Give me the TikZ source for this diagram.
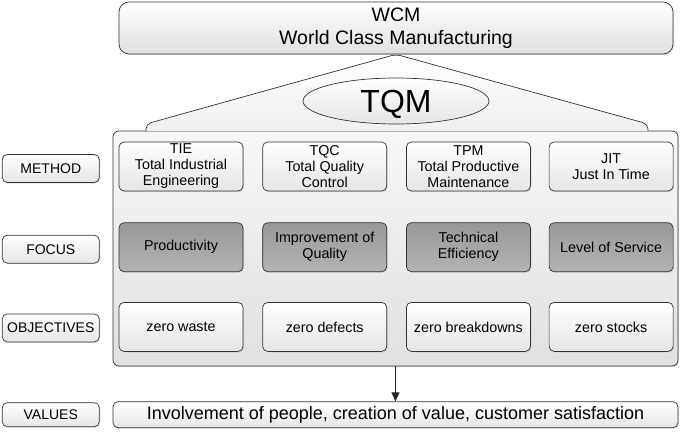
\documentclass[tikz,border=0pt]{standalone}
\usepackage{fontspec}
\setmainfont{Liberation Sans}
\usetikzlibrary{positioning, shadows, shapes.geometric, arrows.meta}

\begin{document}
\begin{tikzpicture}[
        x=1pt, y=-1pt,
        every node/.style={draw=black!80, rounded corners=5pt, align=center, font=\fontsize{14.3}{16}\selectfont, line width=0.7pt},
        shade/.style={drop shadow={opacity=0.25, shadow xshift=1pt, shadow yshift=-1pt}},
        top/.style={shade, top color=white, bottom color=black!12, minimum width=554pt, minimum height=52pt, rounded corners=10pt, inner sep=1pt, font=\fontsize{19.5}{23}\selectfont},
        house/.style={shade, top color=black!3, bottom color=black!12, minimum width=565pt, minimum height=235pt, rounded corners=6pt},
        method/.style={shade, top color=white, bottom color=black!10, minimum width=124pt, minimum height=49pt, inner sep=1pt},
        focus/.style={shade, top color=black!40, bottom color=black!30, minimum width=124pt, minimum height=49pt, inner sep=1pt},
        goal/.style={method},
        lbl/.style={shade, top color=white, bottom color=black!10, minimum width=97pt, minimum height=28pt, inner sep=1pt, font=\fontsize{14}{16}\selectfont},
        link/.style={-{Triangle[length=9pt, width=8pt]}, line width=0.9pt, black!85}
    ]

    \useasboundingbox (0,0) rectangle (685,433);

    % House body
    \node[house] (house) at (395.5,248.5) {};

    % Roof
    \coordinate (roofL) at (146,131);
    \coordinate (roofR) at (648,131);
    \node[top] (wcm) at (396,28) {WCM\\World Class Manufacturing};
    \draw[line width=0.7pt, black!80, rounded corners=5pt, top color=white, bottom color=black!6]
        (roofL) -- (146,124) -- (wcm.south) -- (648,124) -- (roofR);
    \node[ellipse, draw=black!80, top color=white, bottom color=black!10, minimum width=186pt, minimum height=46pt, inner sep=0pt, text height=23pt, text depth=0pt, font=\fontsize{32}{32}\selectfont] (tqm) at (396,101) {TQM};

    % Row 1: Methods
    \node[method] (tie) at (181,166.5) {TIE\\Total Industrial\\Engineering};
    \node[method, right=19pt of tie] (tqc) {TQC\\Total Quality\\Control};
    \node[method, right=19pt of tqc] (tpm) {TPM\\Total Productive\\Maintenance};
    \node[method, right=18pt of tpm] (jit) {JIT\\Just In Time};

    % Row 2: Focus
    \node[focus, below=31pt of tie] (prod) {Productivity};
    \node[focus, below=31pt of tqc] (qual) {Improvement of\\Quality};
    \node[focus, below=31pt of tpm] (eff) {Technical\\Efficiency};
    \node[focus, below=31pt of jit] (serv) {Level of Service};

    % Row 3: Objectives
    \node[goal, below=30pt of prod] (waste) {zero waste};
    \node[goal, below=30pt of qual] (defects) {zero defects};
    \node[goal, below=30pt of eff] (breaks) {zero breakdowns};
    \node[goal, below=30pt of serv] (stocks) {zero stocks};

    % Values
    \node[lbl, minimum width=565pt, minimum height=26pt, font=\fontsize{18}{20}\selectfont, below=35pt of house] (values) {Involvement of people, creation of value, customer satisfaction};
    \draw[link] (house) -- (values);

    % Labels on the left
    \node[lbl, left=19pt of tie, yshift=-2pt] (lmethod) {METHOD};
    \node[lbl, left=19pt of prod, yshift=-2pt] (lfocus) {FOCUS};
    \node[lbl, left=19pt of waste, yshift=-1pt] (lobj) {OBJECTIVES};
    \node[lbl, minimum height=24pt, left=13pt of values] (lvalues) {VALUES};

\end{tikzpicture}
\end{document}
